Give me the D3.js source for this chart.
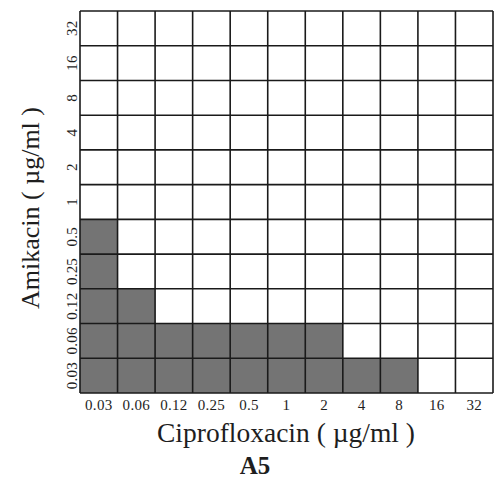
<!DOCTYPE html>
<html>
<head>
<meta charset="utf-8">
<script src="https://cdn.jsdelivr.net/npm/d3@7"></script>
<style>
	body { margin: 0; background: #fff; }
	svg text { font-family: "Liberation Serif", "DejaVu Serif", serif; fill: #1e1e1e; }
</style>
</head>
<body>
<div id="chart"></div>
<script>
// concentrations (µg/ml)
const cipro = ['0.03', '0.06', '0.12', '0.25', '0.5', '1', '2', '4', '8', '16', '32'];
const amika = ['0.03', '0.06', '0.12', '0.25', '0.5', '1', '2', '4', '8', '16', '32'];
// number of shaded (growth) cipro wells for each amikacin row
const growthCount = [9, 7, 2, 1, 1, 0, 0, 0, 0, 0, 0];
const xTitle = 'Ciprofloxacin ( µg/ml )';
const yTitle = 'Amikacin ( µg/ml )';
const panel = 'A5';

const W = 502, H = 484;
const m = { top: 11, right: 9, bottom: 91, left: 80 };
const width = W - m.left - m.right,
	height = H - m.top - m.bottom;

const svg = d3.select('#chart').append('svg')
	.attr('width', W)
	.attr('height', H);

const g = svg.append('g')
	.attr('transform', `translate(${m.left},${m.top})`);

const x = d3.scaleBand().domain(cipro).range([0, width]);
const y = d3.scaleBand().domain(amika).range([height, 0]);

// cells
const cells = [];
amika.forEach((a, i) => {
	cipro.forEach((c, j) => cells.push({ a, c, on: j < growthCount[i] }));
});

g.append('g').selectAll('rect')
	.data(cells)
	.enter()
	.append('rect')
	.attr('x', d => x(d.c))
	.attr('y', d => y(d.a))
	.attr('width', x.bandwidth())
	.attr('height', y.bandwidth())
	.attr('fill', d => d.on ? '#747474' : '#fff');

// grid lines
const grid = g.append('g').attr('stroke', '#1a1a1a').attr('stroke-width', 1.6);
d3.range(cipro.length + 1).forEach(i => {
	const px = i * x.step();
	grid.append('line').attr('x1', px).attr('x2', px).attr('y1', 0).attr('y2', height);
});
d3.range(amika.length + 1).forEach(i => {
	const py = i * y.step();
	grid.append('line').attr('x1', 0).attr('x2', width).attr('y1', py).attr('y2', py);
});

// axes (labels only)
const xAxis = g.append('g')
	.attr('transform', `translate(0,${height})`)
	.call(d3.axisBottom(x).tickSize(0).tickPadding(6));
xAxis.select('.domain').remove();
xAxis.selectAll('text')
	.attr('font-size', 15)
	.attr('fill', '#1e1e1e')
	.attr('dy', 0)
	.attr('y', 17)
	.style('letter-spacing', '0.3px')
	.style('font-family', '"Liberation Serif", serif');

const yAxis = g.append('g')
	.call(d3.axisLeft(y).tickSize(0).tickPadding(0));
yAxis.select('.domain').remove();
yAxis.selectAll('text')
	.attr('font-size', 15)
	.attr('fill', '#1e1e1e')
	.style('letter-spacing', '0.2px')
	.style('font-family', '"Liberation Serif", serif')
	.attr('text-anchor', 'middle')
	.attr('dy', 0)
	.attr('x', 0)
	.attr('transform', 'translate(-3,0) rotate(-90)');

// titles
svg.append('text')
	.attr('x', 286)
	.attr('y', 442)
	.attr('text-anchor', 'middle')
	.attr('font-size', 27.5)
	.text(xTitle);

svg.append('text')
	.attr('transform', `translate(39,208) rotate(-90)`)
	.attr('text-anchor', 'middle')
	.attr('font-size', 26)
	.text(yTitle);

svg.append('text')
	.attr('x', 255)
	.attr('y', 474)
	.attr('text-anchor', 'middle')
	.attr('font-size', 25)
	.attr('font-weight', 'bold')
	.text(panel);
</script>
</body>
</html>
